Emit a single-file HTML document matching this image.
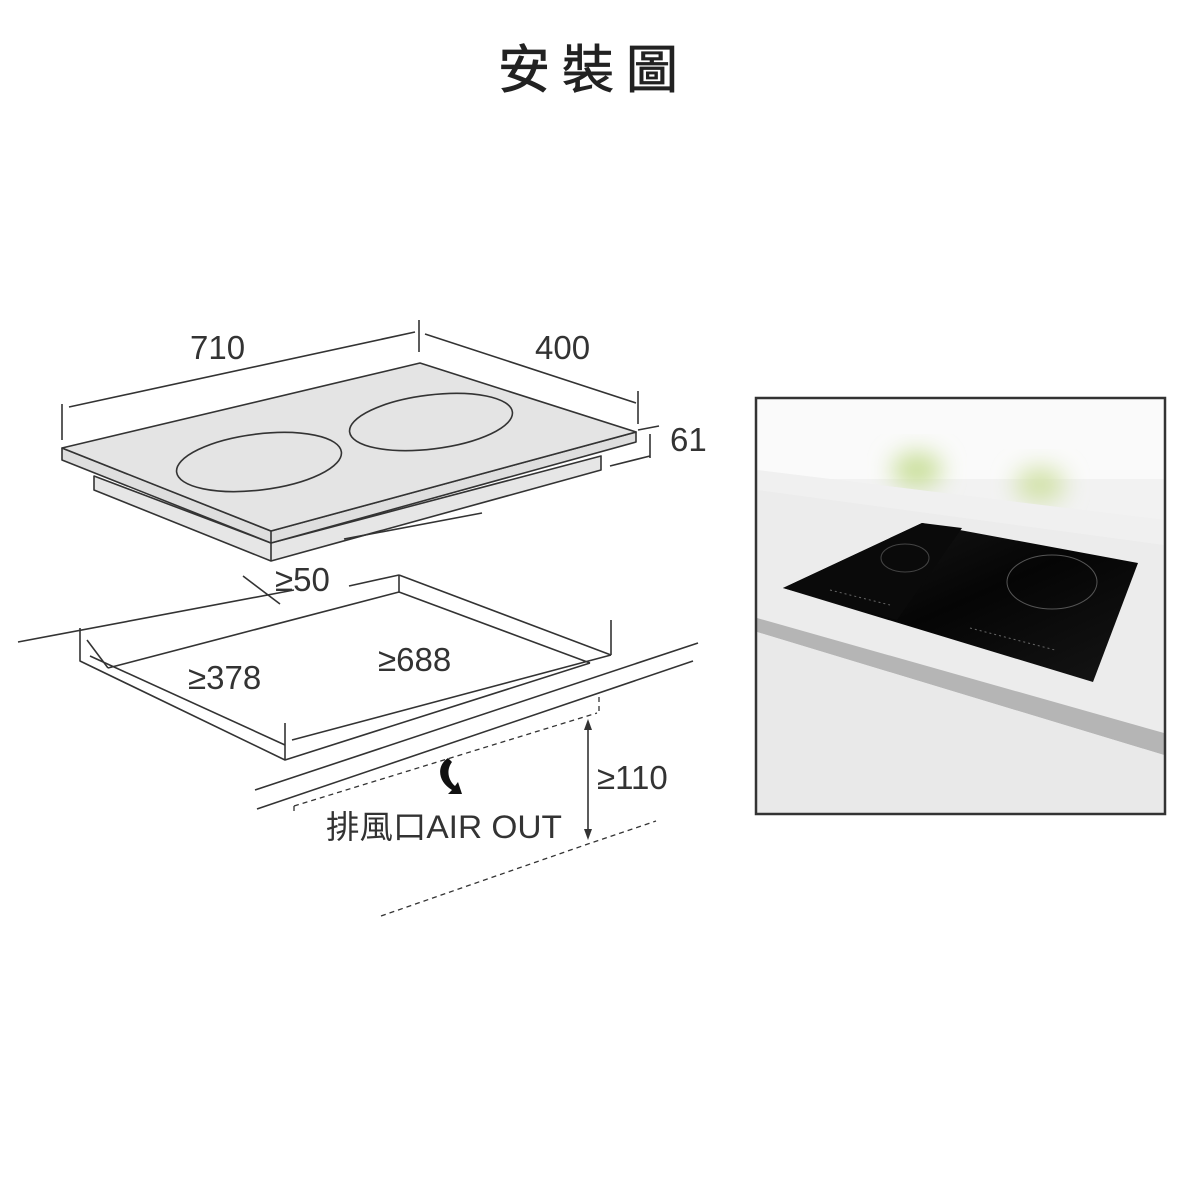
<!DOCTYPE html>
<html><head><meta charset="utf-8"><style>
html,body{margin:0;padding:0;background:#fff;width:1200px;height:1200px;overflow:hidden}
</style></head><body>
<svg width="1200" height="1200" viewBox="0 0 1200 1200" xmlns="http://www.w3.org/2000/svg">
<defs>
<filter id="bl" x="-50%" y="-50%" width="200%" height="200%"><feGaussianBlur stdDeviation="12"/></filter>
<linearGradient id="ct" x1="0" y1="0" x2="1" y2="1"><stop offset="0" stop-color="#1a1a1a"/><stop offset="0.5" stop-color="#050505"/><stop offset="1" stop-color="#151515"/></linearGradient>
<clipPath id="pc"><rect x="757" y="399" width="407" height="414"/></clipPath>
</defs>
<text x="594" y="88" font-family="'Liberation Sans','Noto Sans CJK TC',sans-serif" font-size="52" fill="#222" stroke="#222" stroke-width="0.8" text-anchor="middle" letter-spacing="12">安裝圖</text>

<g stroke="#333" stroke-width="1.6" fill="none" stroke-linejoin="round">
<polygon points="94,476 271,543 601,456 601,470 271,561 94,490" fill="#e6e6e6"/>
<polygon points="62,448 271,531 636,432 636,442 271,543 62,460" fill="#dedede"/>
<line x1="271" y1="531" x2="271" y2="561"/>
<polygon points="62,448 420,363 636,432 271,531" fill="#e4e4e4"/>
<ellipse cx="259" cy="462" rx="83" ry="28" transform="rotate(-7 259 462)" fill="#e4e4e4"/>
<ellipse cx="431" cy="422" rx="82" ry="27" transform="rotate(-7 431 422)" fill="#e4e4e4"/>
<line x1="344" y1="539" x2="482" y2="513"/>
<line x1="69" y1="407" x2="415" y2="332"/>
<line x1="62" y1="404" x2="62" y2="440"/>
<line x1="419" y1="320" x2="419" y2="352"/>
<line x1="425" y1="334" x2="636" y2="403"/>
<line x1="638" y1="391" x2="638" y2="424"/>
<line x1="638" y1="430" x2="659" y2="426"/>
<line x1="610" y1="466" x2="650" y2="456"/>
<line x1="650" y1="434" x2="650" y2="458"/>

<line x1="18" y1="642" x2="294" y2="590"/>
<line x1="349" y1="586" x2="399" y2="575"/>
<line x1="243" y1="576" x2="280" y2="604"/>
<polyline points="399,575 611,655"/>
<polyline points="80,628 80,661 285,760 590,663"/>
<line x1="285" y1="723" x2="285" y2="760"/>
<line x1="611" y1="620" x2="611" y2="655"/>
<line x1="399" y1="575" x2="399" y2="592"/>
<polyline points="87,640 108,668"/>
<polyline points="399,592 590,663"/>
<polyline points="108,668 399,592"/>
<line x1="90" y1="656" x2="285" y2="745"/>
<line x1="292" y1="740" x2="611" y2="655"/>
<line x1="255" y1="790" x2="698" y2="643"/>
<line x1="257" y1="809" x2="693" y2="661"/>
<g stroke-dasharray="5,4" stroke-width="1.3">
<line x1="294" y1="806" x2="294" y2="812"/>
<line x1="294" y1="806" x2="597" y2="713"/>
<line x1="599" y1="697" x2="599" y2="713"/>
<line x1="585" y1="845" x2="656" y2="821"/>
<line x1="381" y1="916" x2="585" y2="845"/>
</g>
<line x1="588" y1="724" x2="588" y2="836"/>
</g>
<polygon points="588,719 584,730 592,730" fill="#333"/>
<polygon points="588,840 584,829 592,829" fill="#333"/>
<path d="M448,758 C436,766 438,782 452,790 L448,794 L462,794 L458,782 L455,786 C448,780 446,770 452,762 Z" fill="#111"/>

<g font-family="'Liberation Sans','Noto Sans CJK TC',sans-serif" font-size="33" fill="#333">
<text x="190" y="359">710</text>
<text x="535" y="359">400</text>
<text x="670" y="451">61</text>
<text x="275" y="591">≥50</text>
<text x="188" y="689">≥378</text>
<text x="378" y="671">≥688</text>
<text x="597" y="789">≥110</text>
<text x="326" y="838" font-size="32" textLength="236" lengthAdjust="spacingAndGlyphs">排風口AIR OUT</text>
</g>

<g clip-path="url(#pc)">
<rect x="757" y="399" width="407" height="414" fill="#f2f2f2"/>
<rect x="757" y="399" width="407" height="80" fill="#fafafa"/>
<ellipse cx="917" cy="470" rx="25" ry="18" fill="#c9df9a" filter="url(#bl)"/>
<ellipse cx="1040" cy="485" rx="25" ry="18" fill="#d2e2a8" filter="url(#bl)"/>
<polygon points="757,470 1164,520 1164,813 757,813" fill="#ececec"/>
<polygon points="757,470 1164,520 1164,545 757,490" fill="#f3f3f3" opacity="0.6"/>
<polygon points="757,618 1164,733 1164,755 757,632" fill="#b5b5b5"/>
<polygon points="757,632 1164,755 1164,813 757,813" fill="#e9e9e9"/>
<polygon points="783,588 922,523 1138,563 1093,682" fill="url(#ct)"/>
<polygon points="783,588 922,523 962,528 897,620" fill="#0a0a0a"/>
<ellipse cx="1052" cy="582" rx="45" ry="27" fill="none" stroke="#555" stroke-width="1"/>
<ellipse cx="905" cy="558" rx="24" ry="14" fill="none" stroke="#444" stroke-width="1"/>
<line x1="830" y1="590" x2="890" y2="605" stroke="#666" stroke-dasharray="2,3"/>
<line x1="970" y1="628" x2="1055" y2="650" stroke="#666" stroke-dasharray="2,3"/>
</g>
<rect x="756" y="398" width="409" height="416" fill="none" stroke="#333" stroke-width="2.5"/>
</svg>
</body></html>
